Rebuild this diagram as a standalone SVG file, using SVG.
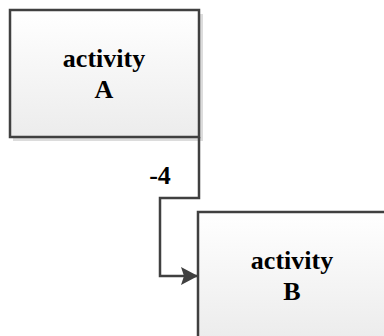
<svg xmlns="http://www.w3.org/2000/svg" width="384" height="336" viewBox="0 0 384 336">
<style>
.box{fill:url(#g);stroke:#404040;stroke-width:2.5}
.sh{fill:#dcdcdc}
.t{font-family:"Liberation Serif","Times New Roman",serif;font-weight:bold;font-size:26px;fill:#000;text-anchor:middle}
.c{fill:none;stroke:#404040;stroke-width:2.5}
</style>
<defs>
<linearGradient id="g" x1="0" y1="0" x2="0" y2="1">
<stop offset="0" stop-color="#ffffff"/>
<stop offset="1" stop-color="#ececec"/>
</linearGradient>
<marker id="ar" markerWidth="18" markerHeight="18" refX="16" refY="9" orient="auto" markerUnits="userSpaceOnUse">
<path d="M0,0 L17,9 L0,18 L3,9 Z" fill="#404040"/>
</marker>
</defs>
<g id="nodeA">
<rect class="sh" x="13" y="14" width="190" height="127"/>
<rect class="box" x="10" y="10" width="189" height="127"/>
<text class="t" x="104" y="67">activity</text>
<text class="t" x="104" y="98">A</text>
</g>
<g id="nodeB">
<rect class="sh" x="201" y="216" width="190" height="127"/>
<rect class="box" x="198" y="212" width="189" height="127"/>
<text class="t" x="292" y="269">activity</text>
<text class="t" x="292" y="300">B</text>
</g>
<g id="connectors">
<path class="c" d="M199,137 V198 H160 V276 H197" marker-end="url(#ar)"/>
<text class="t" x="160" y="184">-4</text>
</g>
</svg>
